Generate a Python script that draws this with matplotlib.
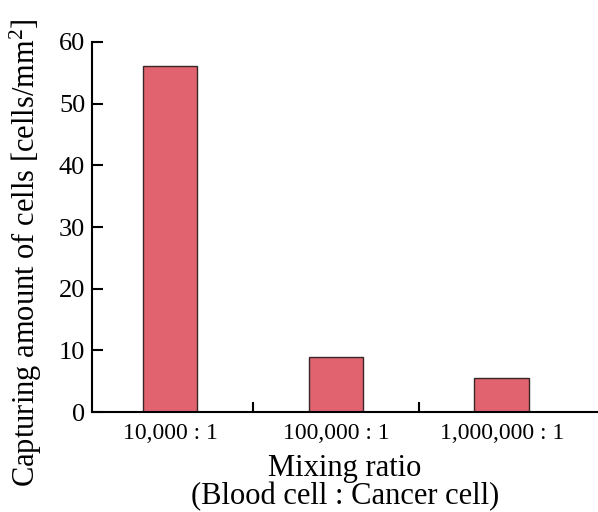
import matplotlib
matplotlib.use("Agg")
import matplotlib.pyplot as plt

# mixing ratios and captured cell counts
ratios = ["10,000 : 1", "100,000 : 1", "1,000,000 : 1"]
captured = [56.1, 9.0, 5.6]

plt.rcParams['font.family'] = ['Liberation Serif', 'DejaVu Serif']
plt.rcParams['mathtext.fontset'] = 'custom'
plt.rcParams['mathtext.rm'] = 'Liberation Serif'

fig = plt.figure(figsize=(5.98, 5.12), dpi=100)
ax = fig.add_axes([0.154, 0.195, 0.846, 0.723])

x = list(range(len(ratios)))
ax.bar(x, captured, width=0.33, color='#e0636f', edgecolor='#3a2628', linewidth=1.0)

ax.set_xlim(-0.47, 2.58)
ax.set_ylim(0, 60)
ax.set_yticks([0, 10, 20, 30, 40, 50, 60])

# category labels under bars, ticks at the boundaries
ax.set_xticks(x)
ax.set_xticklabels(ratios, fontsize=17)
ax.set_xticks([0.5, 1.5], minor=True)
ax.tick_params(axis='x', which='major', length=0, pad=8)
ax.tick_params(axis='x', which='minor', direction='in', length=7, width=1.5)
ax.tick_params(axis='y', direction='in', length=8, width=1.5, labelsize=19, pad=5)

for side in ['top', 'right']:
    ax.spines[side].set_visible(False)
for side in ['left', 'bottom']:
    ax.spines[side].set_linewidth(1.5)

ax.set_xlabel("Mixing ratio\n(Blood cell : Cancer cell)", fontsize=22, linespacing=0.95, labelpad=7)
ax.set_ylabel("Capturing amount of cells [cells/mm$\\mathrm{^2}$]", fontsize=22)
ax.yaxis.set_label_coords(-0.095, 0.43)

fig.savefig("out.png", dpi=100)
